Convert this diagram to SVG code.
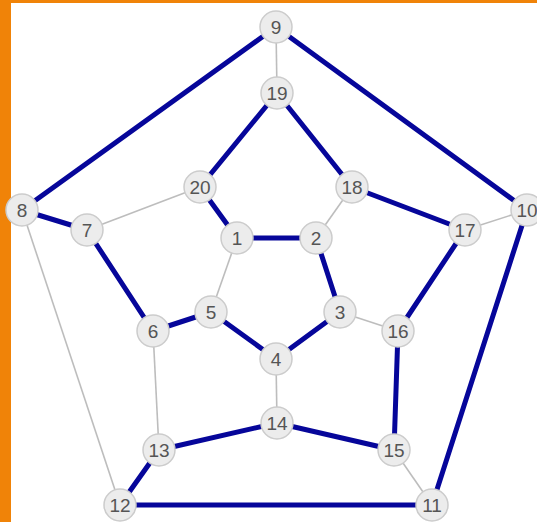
<svg xmlns="http://www.w3.org/2000/svg" width="537" height="522" viewBox="0 0 537 522">
<style>
.thick{stroke:#06069a;stroke-width:5;stroke-linecap:round;fill:none}
.thin{stroke:#bdbdbd;stroke-width:1.6;fill:none}
.node circle{fill:#ececec;stroke:#cccccc;stroke-width:1.5}
.node text{font-family:"Liberation Sans",Arial,sans-serif;font-size:19px;fill:#555;text-anchor:middle;dominant-baseline:central}
</style>
<rect x="0" y="0" width="537" height="522" fill="#ffffff"/>
<rect x="0" y="0" width="11" height="522" fill="#f08308"/>
<rect x="0" y="0" width="537" height="3" fill="#f08308"/>
<g id="connectors">
<line class="thin" x1="276" y1="27" x2="277" y2="93"/>
<line class="thin" x1="200" y1="187" x2="87" y2="230"/>
<line class="thin" x1="352" y1="187" x2="316" y2="238"/>
<line class="thin" x1="465" y1="230" x2="527" y2="210"/>
<line class="thin" x1="237" y1="238" x2="211" y2="312"/>
<line class="thin" x1="340" y1="312" x2="398" y2="331"/>
<line class="thin" x1="153" y1="331" x2="159" y2="450"/>
<line class="thin" x1="22" y1="210" x2="120" y2="505"/>
<line class="thin" x1="276" y1="359" x2="277" y2="423"/>
<line class="thin" x1="394" y1="450" x2="432" y2="505"/>
<line class="thick" x1="276" y1="27" x2="22" y2="210"/>
<line class="thick" x1="276" y1="27" x2="527" y2="210"/>
<line class="thick" x1="277" y1="93" x2="200" y2="187"/>
<line class="thick" x1="277" y1="93" x2="352" y2="187"/>
<line class="thick" x1="200" y1="187" x2="237" y2="238"/>
<line class="thick" x1="352" y1="187" x2="465" y2="230"/>
<line class="thick" x1="22" y1="210" x2="87" y2="230"/>
<line class="thick" x1="87" y1="230" x2="153" y2="331"/>
<line class="thick" x1="237" y1="238" x2="316" y2="238"/>
<line class="thick" x1="316" y1="238" x2="340" y2="312"/>
<line class="thick" x1="340" y1="312" x2="276" y2="359"/>
<line class="thick" x1="276" y1="359" x2="211" y2="312"/>
<line class="thick" x1="211" y1="312" x2="153" y2="331"/>
<line class="thick" x1="465" y1="230" x2="398" y2="331"/>
<line class="thick" x1="398" y1="331" x2="394" y2="450"/>
<line class="thick" x1="277" y1="423" x2="159" y2="450"/>
<line class="thick" x1="277" y1="423" x2="394" y2="450"/>
<line class="thick" x1="159" y1="450" x2="120" y2="505"/>
<line class="thick" x1="120" y1="505" x2="432" y2="505"/>
<line class="thick" x1="432" y1="505" x2="527" y2="210"/>
</g>
<g id="n9" class="node"><circle cx="276" cy="27" r="16"/><text x="276" y="27">9</text></g>
<g id="n19" class="node"><circle cx="277" cy="93" r="16"/><text x="277" y="93">19</text></g>
<g id="n20" class="node"><circle cx="200" cy="187" r="16"/><text x="200" y="187">20</text></g>
<g id="n18" class="node"><circle cx="352" cy="187" r="16"/><text x="352" y="187">18</text></g>
<g id="n8" class="node"><circle cx="22" cy="210" r="16"/><text x="22" y="210">8</text></g>
<g id="n7" class="node"><circle cx="87" cy="230" r="16"/><text x="87" y="230">7</text></g>
<g id="n1" class="node"><circle cx="237" cy="238" r="16"/><text x="237" y="238">1</text></g>
<g id="n2" class="node"><circle cx="316" cy="238" r="16"/><text x="316" y="238">2</text></g>
<g id="n17" class="node"><circle cx="465" cy="230" r="16"/><text x="465" y="230">17</text></g>
<g id="n10" class="node"><circle cx="527" cy="210" r="16"/><text x="527" y="210">10</text></g>
<g id="n5" class="node"><circle cx="211" cy="312" r="16"/><text x="211" y="312">5</text></g>
<g id="n3" class="node"><circle cx="340" cy="312" r="16"/><text x="340" y="312">3</text></g>
<g id="n6" class="node"><circle cx="153" cy="331" r="16"/><text x="153" y="331">6</text></g>
<g id="n16" class="node"><circle cx="398" cy="331" r="16"/><text x="398" y="331">16</text></g>
<g id="n4" class="node"><circle cx="276" cy="359" r="16"/><text x="276" y="359">4</text></g>
<g id="n14" class="node"><circle cx="277" cy="423" r="16"/><text x="277" y="423">14</text></g>
<g id="n13" class="node"><circle cx="159" cy="450" r="16"/><text x="159" y="450">13</text></g>
<g id="n15" class="node"><circle cx="394" cy="450" r="16"/><text x="394" y="450">15</text></g>
<g id="n12" class="node"><circle cx="120" cy="505" r="16"/><text x="120" y="505">12</text></g>
<g id="n11" class="node"><circle cx="432" cy="505" r="16"/><text x="432" y="505">11</text></g>
</svg>
